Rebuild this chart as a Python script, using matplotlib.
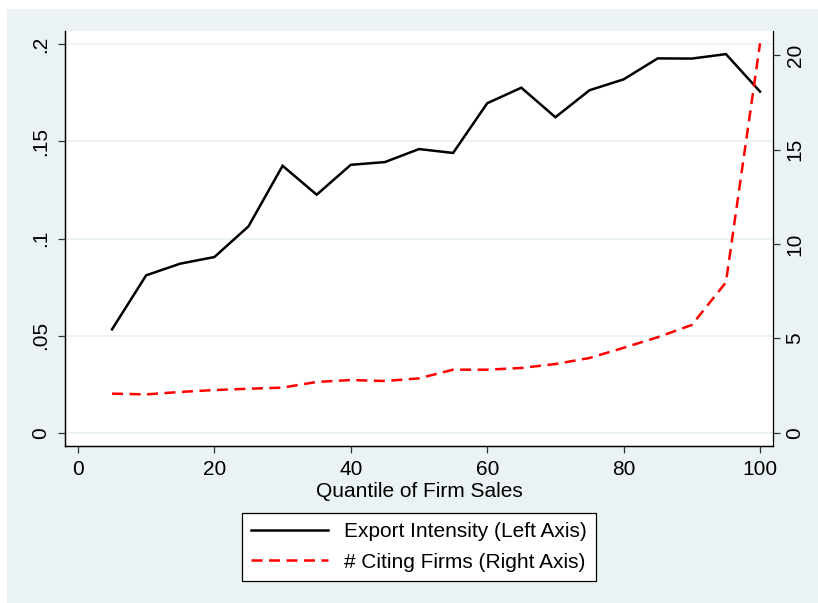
import matplotlib.pyplot as plt
from matplotlib.lines import Line2D
from matplotlib.patches import Rectangle

plt.rcParams['font.family'] = ['Liberation Sans', 'DejaVu Sans']

# quantiles of firm sales (5 to 100)
quantiles = [5, 10, 15, 20, 25, 30, 35, 40, 45, 50, 55, 60, 65, 70, 75, 80, 85, 90, 95, 100]
export_intensity = [0.0533, 0.0811, 0.0871, 0.0905, 0.1063, 0.1375, 0.1226, 0.1380, 0.1394, 0.1461,
                    0.1441, 0.1697, 0.1777, 0.1625, 0.1764, 0.1820, 0.1928, 0.1927, 0.1950, 0.1757]
citing_firms = [2.07, 2.03, 2.16, 2.26, 2.33, 2.39, 2.69, 2.79, 2.74, 2.88,
                3.34, 3.34, 3.43, 3.64, 3.96, 4.50, 5.06, 5.71, 7.97, 20.64]

left_ticks = [0, 0.05, 0.1, 0.15, 0.2]
left_labels = ['0', '.05', '.1', '.15', '.2']
right_ticks = [0, 5, 10, 15, 20]
x_ticks = [0, 20, 40, 60, 80, 100]

bg = '#EAF2F3'
W, H = 818, 603
fs = 15
dash = (4.4, 2.6)

fig = plt.figure(figsize=(W / 100, H / 100), dpi=100, facecolor='white')
# stata style backdrop, kept behind the axes
fig.patches.append(Rectangle((7 / W, 0), 1 - 7 / W, 1 - 9 / H, transform=fig.transFigure,
                             facecolor=bg, edgecolor='none', zorder=-10))

ax = fig.add_axes([65 / W, (H - 446) / H, (773 - 65) / W, (446 - 31) / H])
ax.set_facecolor('white')
ax2 = ax.twinx()

ax.plot(quantiles, export_intensity, color='black', lw=1.8, solid_joinstyle='miter', zorder=3)
ax2.plot(quantiles, citing_firms, color='#FF0000', lw=1.8, dashes=dash, zorder=3)

ax.set_xlim(-1.9, 101.9)
ax.set_ylim(-0.0068, 0.2069)
ax2.set_ylim(-0.705, 21.29)

ax.set_xticks(x_ticks)
ax.set_yticks(left_ticks)
ax.set_yticklabels(left_labels, rotation=90, va='center')
ax2.set_yticks(right_ticks)
ax2.set_yticklabels([str(t) for t in right_ticks], rotation=90, va='center')

ax.grid(axis='y', color=bg, lw=1.3)
ax.set_axisbelow(True)

for a in (ax, ax2):
    a.spines['top'].set_visible(False)
    for s in a.spines.values():
        s.set_color('black')
        s.set_linewidth(0.9)
    a.tick_params(labelsize=fs, length=5, width=0.9, color='#333333')
ax.spines['right'].set_visible(False)
ax.tick_params(axis='x', pad=5)
ax.tick_params(axis='y', pad=6)
ax2.tick_params(axis='y', pad=4)

ax.set_xlabel('Quantile of Firm Sales', fontsize=fs, labelpad=2)

handles = [Line2D([], [], color='black', lw=1.8),
           Line2D([], [], color='#FF0000', lw=1.8, dashes=dash)]
leg = fig.legend(handles, ['Export Intensity (Left Axis)', '# Citing Firms (Right Axis)'],
                 loc='center', bbox_to_anchor=(419 / W, 1 - 547 / H), fontsize=fs,
                 frameon=True, fancybox=False, edgecolor='black', facecolor='white',
                 framealpha=1, handlelength=3.7, borderpad=0.45, labelspacing=0.55,
                 handletextpad=0.75, borderaxespad=0)
leg.get_frame().set_linewidth(0.9)

fig.savefig('out.png', dpi=100, facecolor='white')
